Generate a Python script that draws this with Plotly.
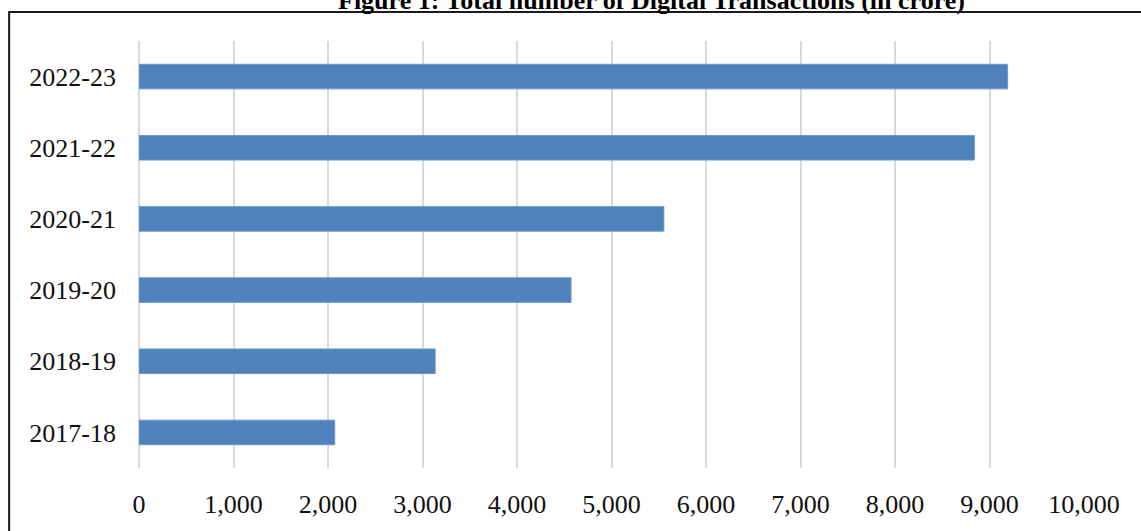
import plotly.graph_objects as go

# Total number of digital transactions per financial year (in crore)
years = ["2017-18", "2018-19", "2019-20", "2020-21", "2021-22", "2022-23"]
transactions = [2071, 3134, 4572, 5554, 8840, 9192]
x_ticks = [0, 1000, 2000, 3000, 4000, 5000, 6000, 7000, 8000, 9000, 10000]

W, H = 1141, 531
L, R, T, B = 138.5, 56.7, 41, 57
plot_w = W - L - R
plot_h = H - T - B

def px_x(p):
    return (p - L) / plot_w

def px_y(p):
    return (H - B - p) / plot_h

serif = "Times New Roman, Liberation Serif, serif"

fig = go.Figure(
    go.Bar(
        x=transactions,
        y=years,
        orientation="h",
        width=0.345,
        marker=dict(color="#4F81BD", line=dict(color="#6B98CF", width=1)),
        hoverinfo="x+y",
    )
)

fig.update_layout(
    width=W,
    height=H,
    margin=dict(l=L, r=R, t=T, b=B, pad=0),
    paper_bgcolor="white",
    plot_bgcolor="white",
    showlegend=False,
    font=dict(family=serif, size=26, color="#111111"),
    xaxis=dict(
        range=[0, 10000],
        tickvals=x_ticks,
        tickformat=",",
        showgrid=True,
        gridcolor="#D9D9D9",
        gridwidth=2,
        zeroline=True,
        zerolinecolor="#D9D9D9",
        zerolinewidth=2,
        showline=False,
        ticks="",
        ticklabelstandoff=18,
        fixedrange=True,
    ),
    yaxis=dict(
        type="category",
        categoryorder="array",
        categoryarray=years,
        range=[-0.5, 5.5],
        showgrid=False,
        zeroline=False,
        showline=False,
        ticks="",
        ticklabelstandoff=22,
        fixedrange=True,
    ),
    shapes=[
        dict(
            type="rect",
            xref="paper",
            yref="paper",
            x0=px_x(8.5),
            x1=px_x(W + 20),
            y0=px_y(H + 20),
            y1=px_y(11.5),
            line=dict(color="#1A1A1A", width=2),
            fillcolor="rgba(0,0,0,0)",
            layer="below",
        )
    ],
    annotations=[
        dict(
            text="<b>Figure 1: Total number of Digital Transactions (in crore)</b>",
            xref="paper",
            yref="paper",
            x=px_x(651),
            y=px_y(0),
            xanchor="center",
            yanchor="middle",
            showarrow=False,
            font=dict(family=serif, size=26, color="#000000"),
        )
    ],
)

fig.write_html("out.html")
